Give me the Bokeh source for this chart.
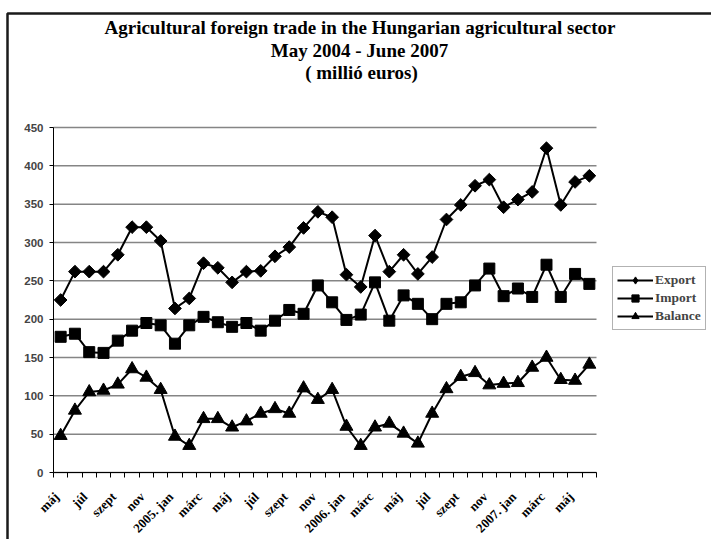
import math
from bokeh.plotting import figure
from bokeh.models import (FixedTicker, Range1d, Label, Legend, LegendItem,
                          BoxAnnotation, ColumnDataSource)
from bokeh.core.properties import value
from bokeh.embed import file_html
from bokeh.resources import INLINE

# ---- data (million euros), May 2004 - June 2007 ----
months = ["máj", "jún", "júl", "aug", "szept", "okt", "nov", "dec",
          "2005. jan", "febr", "márc", "ápr", "máj", "jún", "júl", "aug",
          "szept", "okt", "nov", "dec",
          "2006. jan", "febr", "márc", "ápr", "máj", "jún", "júl", "aug",
          "szept", "okt", "nov", "dec",
          "2007. jan", "febr", "márc", "ápr", "máj", "jún"]
export = [225, 262, 262, 262, 284, 320, 320, 302, 214, 227, 273, 267, 248,
          262, 263, 282, 294, 319, 340, 333, 258, 242, 309, 262, 284, 259,
          281, 330, 349, 374, 382, 346, 356, 366, 423, 349, 379, 387]
imports = [177, 181, 157, 156, 172, 185, 195, 192, 168, 192, 203, 196, 190,
           195, 185, 198, 212, 207, 244, 222, 199, 206, 248, 198, 231, 220,
           200, 220, 222, 244, 266, 230, 240, 229, 271, 229, 259, 246]
balance = [48, 81, 105, 107, 115, 135, 124, 108, 47, 35, 70, 70, 59, 67,
           77, 83, 77, 110, 95, 108, 60, 35, 59, 64, 51, 38, 77, 109, 125,
           130, 114, 116, 117, 137, 150, 121, 120, 141]
y_ticks = [0, 50, 100, 150, 200, 250, 300, 350, 400, 450]
title_lines = ["Agricultural foreign trade in the Hungarian agricultural sector",
               "May 2004 - June 2007",
               "( millió euros)"]
series_names = ["Export", "Import", "Balance"]

n = len(months)
W, H = 711, 539
# plot area in canvas pixels
PL, PR, PT, PB = 53, 596, 127, 472
ymax = 450
xu = (PR - PL) / n
yu = (PB - PT) / ymax
x_range = Range1d(-PL / xu, n + (W - PR) / xu)
y_range = Range1d(-(H - PB) / yu, ymax + PT / yu)

xs = [i + 0.5 for i in range(n)]
src = ColumnDataSource(dict(x=xs, export=export, imp=imports, bal=balance))

p = figure(width=W, height=H, x_range=x_range, y_range=y_range,
           output_backend="svg", toolbar_location=None, min_border=0)
p.outline_line_color = None
p.background_fill_color = "white"
p.border_fill_color = "white"
p.xgrid.visible = False
p.ygrid.visible = False

# horizontal grid lines across the plot area only
p.segment(x0=[0] * len(y_ticks), x1=[n] * len(y_ticks), y0=y_ticks, y1=y_ticks,
          line_color="#858585", line_width=1.5)

# y axis
p.yaxis.fixed_location = 0
p.yaxis.bounds = (0, ymax)
p.yaxis.ticker = FixedTicker(ticks=y_ticks)
p.yaxis.axis_line_color = "black"
p.yaxis.axis_line_width = 1
p.yaxis.major_tick_in = 0
p.yaxis.major_tick_out = 4
p.yaxis.minor_tick_line_color = None
p.yaxis.major_label_text_font = "Liberation Sans"
p.yaxis.major_label_text_font_style = "bold"
p.yaxis.major_label_text_font_size = "11.5px"
p.yaxis.major_label_standoff = 6

# x axis: tick marks at month boundaries; labels drawn rotated below
p.xaxis.fixed_location = 0
p.xaxis.bounds = (0, n)
p.xaxis.ticker = FixedTicker(ticks=[], minor_ticks=list(range(n + 1)))
p.xaxis.major_tick_line_color = None
p.xaxis.minor_tick_line_color = "black"
p.xaxis.minor_tick_in = 0
p.xaxis.minor_tick_out = 5
p.xaxis.axis_line_color = "black"

label_x = [i + 0.5 for i in range(0, n, 2)]
label_txt = [months[i] for i in range(0, n, 2)]
lab_src = ColumnDataSource(dict(x=label_x, y=[0] * len(label_x), t=label_txt))
p.text(x="x", y="y", text="t", source=lab_src, angle=math.pi / 4,
       x_offset=-4, y_offset=22, text_align="right", text_baseline="middle",
       text_font=value("Liberation Serif"), text_font_style="bold",
       text_font_size="13px", text_color="black")

# series
l1 = p.line("x", "export", source=src, line_color="black", line_width=2)
p.scatter("x", "export", source=src, marker="square", angle=math.pi / 4,
          size=9, color="black")
l2 = p.line("x", "imp", source=src, line_color="black", line_width=2)
m2 = p.scatter("x", "imp", source=src, marker="square", size=11, color="black")
l3 = p.line("x", "bal", source=src, line_color="black", line_width=2)
m3 = p.scatter("x", "bal", source=src, marker="triangle", size=13, color="black")

# legend-only diamond (no visible point)
dm = p.scatter([float("nan")], [float("nan")], marker="diamond", size=8, color="black")

legend = Legend(items=[LegendItem(label=series_names[0], renderers=[l1, dm]),
                       LegendItem(label=series_names[1], renderers=[l2, m2]),
                       LegendItem(label=series_names[2], renderers=[l3, m3])],
                location=(612, H - 330))
legend.label_text_font = "Liberation Serif"
legend.label_text_font_style = "bold"
legend.label_text_font_size = "13.5px"
legend.label_height = 18
legend.glyph_height = 18
legend.glyph_width = 36
legend.label_standoff = 2
legend.spacing = 0
legend.padding = 4
legend.margin = 0
legend.border_line_color = "#666666"
legend.border_line_width = 1
legend.background_fill_color = "white"
legend.background_fill_alpha = 1
p.add_layout(legend, "center")

# titles
for txt, (tx, ty) in zip(title_lines, [(359.5, 27), (359, 50), (361, 72)]):
    p.add_layout(Label(x=tx, y=H - ty, x_units="screen", y_units="screen", text=txt,
                       text_align="center", text_baseline="middle",
                       text_font="Liberation Serif", text_font_style="bold",
                       text_font_size="19px", text_color="black"))

# outer chart frame (left and top edges visible)
p.add_layout(BoxAnnotation(left=x_range.start + 7 / xu, right=x_range.end + 5,
                           top=y_range.end - 13 / yu, bottom=y_range.start - 20,
                           fill_alpha=0, line_color="#1a1a1a", line_alpha=1,
                           line_width=2.5))

open("out.html", "w").write(file_html(p, INLINE))
